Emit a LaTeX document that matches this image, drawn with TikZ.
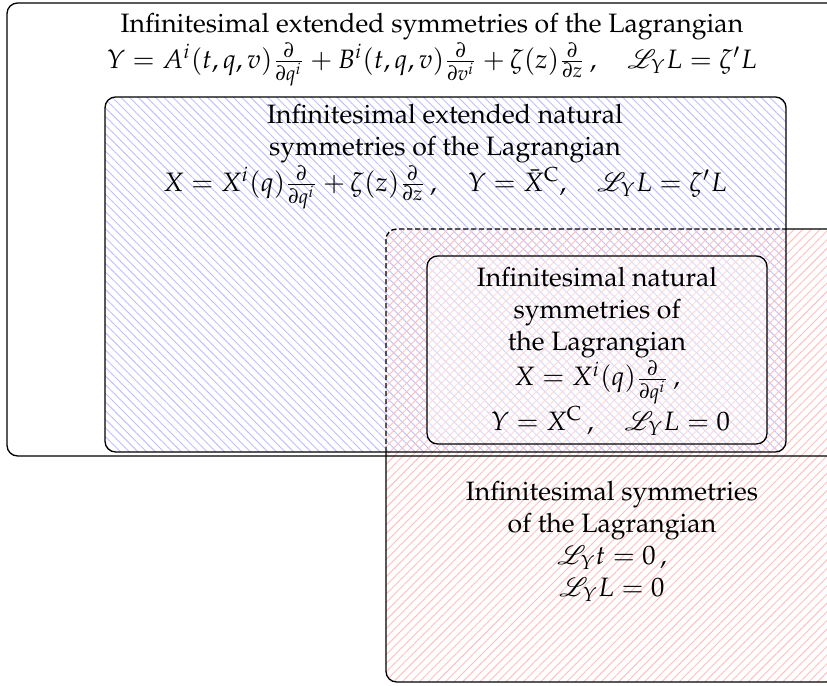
\documentclass[tikz,border=0pt]{standalone}
\usepackage[T1]{fontenc}
\usepackage{mathpazo}
\usepackage{mathrsfs}
\usetikzlibrary{patterns.meta}
\begin{document}
\begin{tikzpicture}[x=0.3759pt,y=-0.3759pt,
  box/.style={rounded corners=4pt, line width=0.5pt},
  txt/.style={align=center, inner sep=0pt, anchor=north}]
\useasboundingbox (0,0) rectangle (827,686);
\clip (0,0) rectangle (827,686);
% fills
\fill[pattern={Lines[angle=-45, distance=2.3pt, line width=0.35pt]}, pattern color=blue!25, rounded corners=4pt] (105,97) rectangle (786,452);
\fill[pattern={Lines[angle=45, distance=2.3pt, line width=0.35pt]}, pattern color=red!25, rounded corners=4pt] (386,229) rectangle (838,682);
\fill[white, fill opacity=0.4, rounded corners=4pt] (427,256) rectangle (767,444);
% borders
\draw[box] (7,3) rectangle (857,456);
\draw[box] (105,97) rectangle (786,452);
\draw[box, dash pattern=on 2pt off 1pt] (386,452) -- (386,229) -- (786,229);
\draw[box] (786,229) -- (838,229) -- (838,682) -- (386,682) -- (386,452);
\draw[box] (427,256) rectangle (767,444);
% texts
\node[txt] (outer) at (432,13) {Infinitesimal extended symmetries of the Lagrangian\\
  $Y = A^i(t,q,v)\frac{\partial}{\partial q^i} + B^i(t,q,v)\frac{\partial}{\partial v^i} + \zeta(z)\frac{\partial}{\partial z}\,, \quad \mathscr{L}_Y L = \zeta' L$};
\node[txt] (ext) at (445,104) {Infinitesimal extended natural\\ symmetries of the Lagrangian\\
  $X = X^i(q)\frac{\partial}{\partial q^i} + \zeta(z)\frac{\partial}{\partial z}\,, \quad Y = \bar{X}^{\mathrm{C}}, \quad \mathscr{L}_Y L = \zeta' L$};
\node[txt] (nat) at (597,267) {Infinitesimal natural\\ symmetries of\\ the Lagrangian\\
  $X = X^i(q)\frac{\partial}{\partial q^i}\,,$\\
  \hspace*{10pt}$Y = X^{\mathrm{C}}\,, \quad \mathscr{L}_Y L = 0$};
\node[txt] (sym) at (612,481) {Infinitesimal symmetries\\ of the Lagrangian\\
  $\mathscr{L}_Y t = 0\,,$\\ $\mathscr{L}_Y L = 0$};
\end{tikzpicture}
\end{document}
